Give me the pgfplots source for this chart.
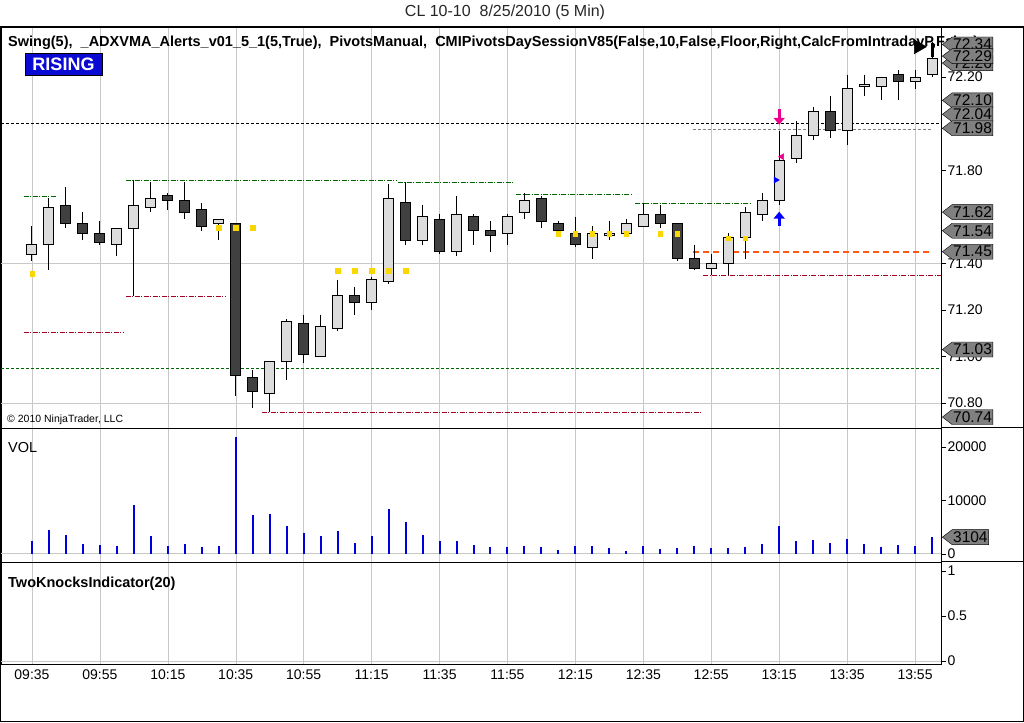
\documentclass[border=0pt]{standalone}
\usepackage{pgfplots}
\pgfplotsset{compat=1.18}
\usepackage{pgfplotstable}
\usetikzlibrary{shapes.symbols,arrows.meta}
\usepackage{fontspec}
\setmainfont{Liberation Sans}

\definecolor{candleup}{RGB}{220,220,220}
\definecolor{candledn}{RGB}{64,64,64}
\definecolor{gridgray}{RGB}{200,200,200}
\definecolor{boxgray}{RGB}{128,128,128}
\definecolor{volblue}{RGB}{0,0,220}
\definecolor{pivgreen}{RGB}{0,100,0}
\definecolor{pivred}{RGB}{160,0,40}
\definecolor{swingyel}{RGB}{250,215,0}
\definecolor{stoporange}{RGB}{255,90,20}
\definecolor{risingblue}{RGB}{10,10,210}

\pgfdeclareplotmark{nothing}{}
\newcommand\tickfont{\fontsize{14}{14}\selectfont}

% bar i = 09:35 + 5 min * i ; open high low close
\pgfplotstableread{
i open high low close
0 71.44 71.56 71.41 71.48
1 71.48 71.68 71.37 71.64
2 71.65 71.73 71.55 71.57
3 71.57 71.62 71.50 71.53
4 71.53 71.58 71.48 71.49
5 71.48 71.55 71.43 71.55
6 71.55 71.76 71.26 71.65
7 71.64 71.75 71.62 71.68
8 71.69 71.70 71.63 71.67
9 71.67 71.75 71.59 71.62
10 71.63 71.66 71.54 71.56
11 71.57 71.59 71.50 71.59
12 71.57 71.57 70.83 70.92
13 70.91 70.94 70.78 70.85
14 70.84 70.98 70.76 70.98
15 70.98 71.16 70.90 71.15
16 71.14 71.18 70.97 71.01
17 71.00 71.18 71.00 71.13
18 71.12 71.33 71.11 71.26
19 71.26 71.30 71.18 71.23
20 71.23 71.34 71.20 71.33
21 71.32 71.74 71.31 71.68
22 71.66 71.75 71.48 71.50
23 71.50 71.65 71.48 71.60
24 71.59 71.61 71.44 71.45
25 71.45 71.69 71.43 71.61
26 71.60 71.61 71.48 71.54
27 71.54 71.58 71.45 71.52
28 71.53 71.61 71.48 71.60
29 71.62 71.70 71.59 71.67
30 71.68 71.69 71.55 71.58
31 71.57 71.58 71.53 71.54
32 71.53 71.60 71.47 71.48
33 71.47 71.56 71.42 71.53
34 71.52 71.58 71.50 71.53
35 71.53 71.59 71.53 71.57
36 71.56 71.66 71.56 71.61
37 71.61 71.65 71.55 71.57
38 71.57 71.57 71.41 71.42
39 71.42 71.48 71.37 71.38
40 71.38 71.44 71.35 71.40
41 71.40 71.53 71.35 71.51
42 71.51 71.64 71.42 71.62
43 71.61 71.70 71.58 71.67
44 71.67 71.97 71.65 71.84
45 71.85 72.01 71.83 71.95
46 71.95 72.07 71.93 72.05
47 72.05 72.12 71.94 71.97
48 71.97 72.21 71.91 72.15
49 72.16 72.21 72.12 72.17
50 72.16 72.20 72.10 72.20
51 72.21 72.23 72.10 72.18
52 72.18 72.23 72.15 72.20
53 72.21 72.35 72.20 72.28
}\ohlc

\pgfplotstableread{
i v
0 2375
1 4440
2 3500
3 1810
4 1625
5 1440
6 9125
7 3310
8 1440
9 1810
10 1250
11 1440
12 21875
13 7250
14 7440
15 5190
16 3875
17 3310
18 4250
19 2000
20 3310
21 8375
22 5940
23 3500
24 2375
25 2375
26 1625
27 1250
28 1250
29 1440
30 1250
31 690
32 1440
33 1440
34 1060
35 500
36 1440
37 875
38 1060
39 1440
40 1060
41 1060
42 1250
43 1810
44 5190
45 2375
46 2560
47 2000
48 2750
49 1810
50 1250
51 1625
52 1440
53 3104
}\voltab

% swing dots
\pgfplotstableread{
i y
0 71.356
11 71.553
12 71.553
13 71.553
18 71.369
19 71.369
20 71.369
21 71.369
22 71.369
31 71.528
32 71.528
33 71.528
34 71.528
35 71.528
37 71.528
38 71.528
41 71.507
42 71.507
}\swingdots

% signal arrows at bar 13:15
\pgfplotstableread{
x y u v
44 72.062 0 -0.067
}\sellarrow
\pgfplotstableread{
x y u v
44 71.560 0 0.062
}\buyarrow

% price flags on the right axis
\pgfplotstableread{
x y lab
53.53 72.34 72.34
53.53 72.26 72.26
53.53 72.29 72.29
53.53 72.10 72.10
53.53 72.04 72.04
53.53 71.98 71.98
53.53 71.62 71.62
53.53 71.54 71.54
53.53 71.45 71.45
53.53 71.03 71.03
53.53 70.74 70.74
}\flags

\pgfplotstableread{
x y lab
53.53 3104 3104
}\volflag

\pgfplotsset{
  panel/.style={
    scale only axis, width=940pt,
    xmin=-1.8235, xmax=53.529,
    axis line style={black},
    xtick={0,4,...,52}, xticklabels={}, xmajorgrids,
    major x tick style={draw=none},
    grid style={gridgray},
    ytick pos=right, yticklabel pos=right, xtick pos=bottom,
    tick align=outside, major tick length=5pt,
    major y tick style={black},
    scaled y ticks=false,
    yticklabel style={font=\tickfont, anchor=west, xshift=-2pt},
  },
  swingline/.style={line width=1pt, dash pattern=on 5pt off 1.5pt on 1pt off 1.5pt},
  flag/.style={only marks, mark=nothing, point meta=explicit symbolic,
    nodes near coords,
    nodes near coords style={signal, signal to=west, signal pointer angle=75,
      draw=black, fill=boxgray, text=black, font=\fontsize{15.5}{15.5}\selectfont,
      inner xsep=1pt, inner ysep=0pt, minimum height=15pt, anchor=west, xshift=1pt}},
}

\begin{document}
\begin{tikzpicture}
\useasboundingbox (0,0) rectangle (1024pt,722pt);
\clip (0,0) rectangle (1024pt,722pt);

% price panel
\begin{axis}[panel, at={(1pt,294pt)}, anchor=south west, height=401pt,
  ymin=70.693, ymax=72.415, clip=false,
  ytick={70.8,71.0,71.2,71.4,71.8,72.2},
  yticklabels={70.80,71.00,71.20,71.40,71.80,72.20},
  extra y ticks={70.8,71.4}, extra y tick labels={}, extra y tick style={grid=major},
]
\node[anchor=base west, inner sep=0pt, font=\bfseries\fontsize{14.5}{14.5}\selectfont]
  at (rel axis cs:0.00745,0.9501)
  {Swing(5),\ \ \_ADXVMA\_Alerts\_v01\_5\_1(5,True),\ \ PivotsManual,\ \ CMIPivotsDaySessionV85(False,10,False,Floor,Right,CalcFromIntradayP,False)};

\addplot[black, line width=1pt, dash pattern=on 3pt off 2pt] coordinates {(-1.82,72.00) (53.53,72.00)};
\addplot[pivgreen, line width=1pt, dash pattern=on 3pt off 2pt] coordinates {(-1.82,70.95) (53.53,70.95)};
\addplot[pivgreen, swingline] coordinates {(-0.47,71.689) (1.41,71.689)};
\addplot[pivgreen, swingline] coordinates {(5.53,71.757) (21.47,71.757)};
\addplot[pivgreen, swingline] coordinates {(21.53,71.748) (28.41,71.748)};
\addplot[pivgreen, swingline] coordinates {(28.53,71.697) (35.41,71.697)};
\addplot[pivgreen, swingline] coordinates {(35.53,71.658) (42.41,71.658)};
\addplot[pivred, swingline] coordinates {(-0.47,71.101) (5.41,71.101)};
\addplot[pivred, swingline] coordinates {(5.53,71.258) (11.41,71.258)};
\addplot[pivred, swingline] coordinates {(13.53,70.760) (39.41,70.760)};
\addplot[pivred, swingline] coordinates {(39.53,71.348) (53.53,71.348)};
\addplot[gray, line width=1pt, dash pattern=on 3pt off 2pt] coordinates {(38.9,71.976) (53.0,71.976)};
\addplot[stoporange, line width=2pt, dash pattern=on 6pt off 4pt] coordinates {(38.9,71.447) (53.0,71.447)};

% candles
\addplot[scatter, only marks, mark=nothing,
  visualization depends on={\thisrow{open}\as\op},
  visualization depends on={\thisrow{high}\as\hi},
  visualization depends on={\thisrow{low}\as\lo},
  visualization depends on={\thisrow{close}\as\cl},
  scatter/@pre marker code/.code={%
    \begingroup
    \pgfkeys{/pgf/fpu=true,/pgf/fpu/output format=fixed}%
    \pgfmathsetmacro\dhi{\hi-\cl}%
    \pgfmathsetmacro\dlo{\lo-\cl}%
    \pgfmathsetmacro\dop{\op-\cl}%
    \pgfkeys{/pgf/fpu=false}%
    \ifdim\dop pt>0pt \def\cf{candledn}\else\def\cf{candleup}\fi
    \draw[black, line width=1pt] (axis direction cs:0,\dhi) -- (axis direction cs:0,\dlo);
    \filldraw[draw=black, fill=\cf, line width=1pt]
      ([xshift=-5pt]axis direction cs:0,0) rectangle ([xshift=5pt]axis direction cs:0,\dop);
    \endgroup
  },
  scatter/@post marker code/.code={},
] table[x=i, y=close] \ohlc;

\addplot[only marks, mark=square*, mark size=2.2pt, swingyel] table[x=i, y=y] \swingdots;

\addplot[black, line width=3pt] coordinates {(53,72.285) (53,72.345)};
\addplot[only marks, mark=triangle*, mark size=8pt, black, mark options={rotate=-90}] coordinates {(52.2,72.33)};
\addplot[magenta, line width=3pt, -{Triangle[length=7pt,width=11pt]},
  quiver={u=\thisrow{u},v=\thisrow{v}}] table[x=x, y=y] \sellarrow;
\addplot[blue, line width=3pt, -{Triangle[length=7pt,width=11pt]},
  quiver={u=\thisrow{u},v=\thisrow{v}}] table[x=x, y=y] \buyarrow;
\addplot[only marks, mark=triangle*, mark size=3.5pt, magenta, mark options={rotate=90}] coordinates {(44.16,71.858)};
\addplot[only marks, mark=triangle*, mark size=3.5pt, blue, mark options={rotate=-90}] coordinates {(43.8,71.758)};

\addplot[flag] table[x=x, y=y, meta=lab] \flags;
\end{axis}

% volume panel
\begin{axis}[panel, at={(1pt,160pt)}, anchor=south west, height=134pt,
  ymin=-1557, ymax=23583, clip=false,
  ytick={0,10000,20000}, yticklabels={0,10000,20000},
  extra y ticks={0}, extra y tick labels={}, extra y tick style={grid=major},
]
\addplot[ycomb, volblue, line width=2pt] table[x=i, y=v] \voltab;
\addplot[flag] table[x=x, y=y, meta=lab] \volflag;
\end{axis}

% TwoKnocks panel
\begin{axis}[panel, at={(1pt,58pt)}, anchor=south west, height=102pt,
  ymin=-0.0333, ymax=1.1,
  ytick={0,0.5,1}, yticklabels={0,0.5,1},
  extra y ticks={0}, extra y tick labels={}, extra y tick style={grid=major},
  xticklabels={09:35,09:55,10:15,10:35,10:55,11:15,11:35,11:55,12:15,12:35,12:55,13:15,13:35,13:55},
  xticklabel style={font=\tickfont, yshift=3pt},
]
\addplot[draw=none] coordinates {(0,0)};
\end{axis}

\draw[black, line width=1pt] (941pt,294pt) -- (1024pt,294pt);
\draw[black, line width=1pt] (941pt,160pt) -- (1024pt,160pt);
\draw[black, line width=1.2pt] (0.6pt,0.6pt) rectangle (1023.4pt,695pt);

\node[text=black!85, font=\fontsize{16}{16}\selectfont] at (505pt,709.5pt) {CL 10-10\ \ 8/25/2010 (5 Min)};
\node[fill=risingblue, draw=black, text=white, font=\bfseries\fontsize{18}{18}\selectfont,
  minimum width=77pt, minimum height=22pt, inner sep=0pt] at (63.5pt,658pt) {RISING};
\node[anchor=base west, inner sep=0pt, font=\fontsize{10.5}{10.5}\selectfont] at (7pt,299pt) {\textcopyright\ 2010 NinjaTrader, LLC};
\node[anchor=base west, inner sep=0pt, font=\fontsize{14.5}{14.5}\selectfont] at (8pt,269pt) {VOL};
\node[anchor=base west, inner sep=0pt, font=\bfseries\fontsize{14.5}{14.5}\selectfont] at (8pt,134pt) {TwoKnocksIndicator(20)};
\end{tikzpicture}
\end{document}
